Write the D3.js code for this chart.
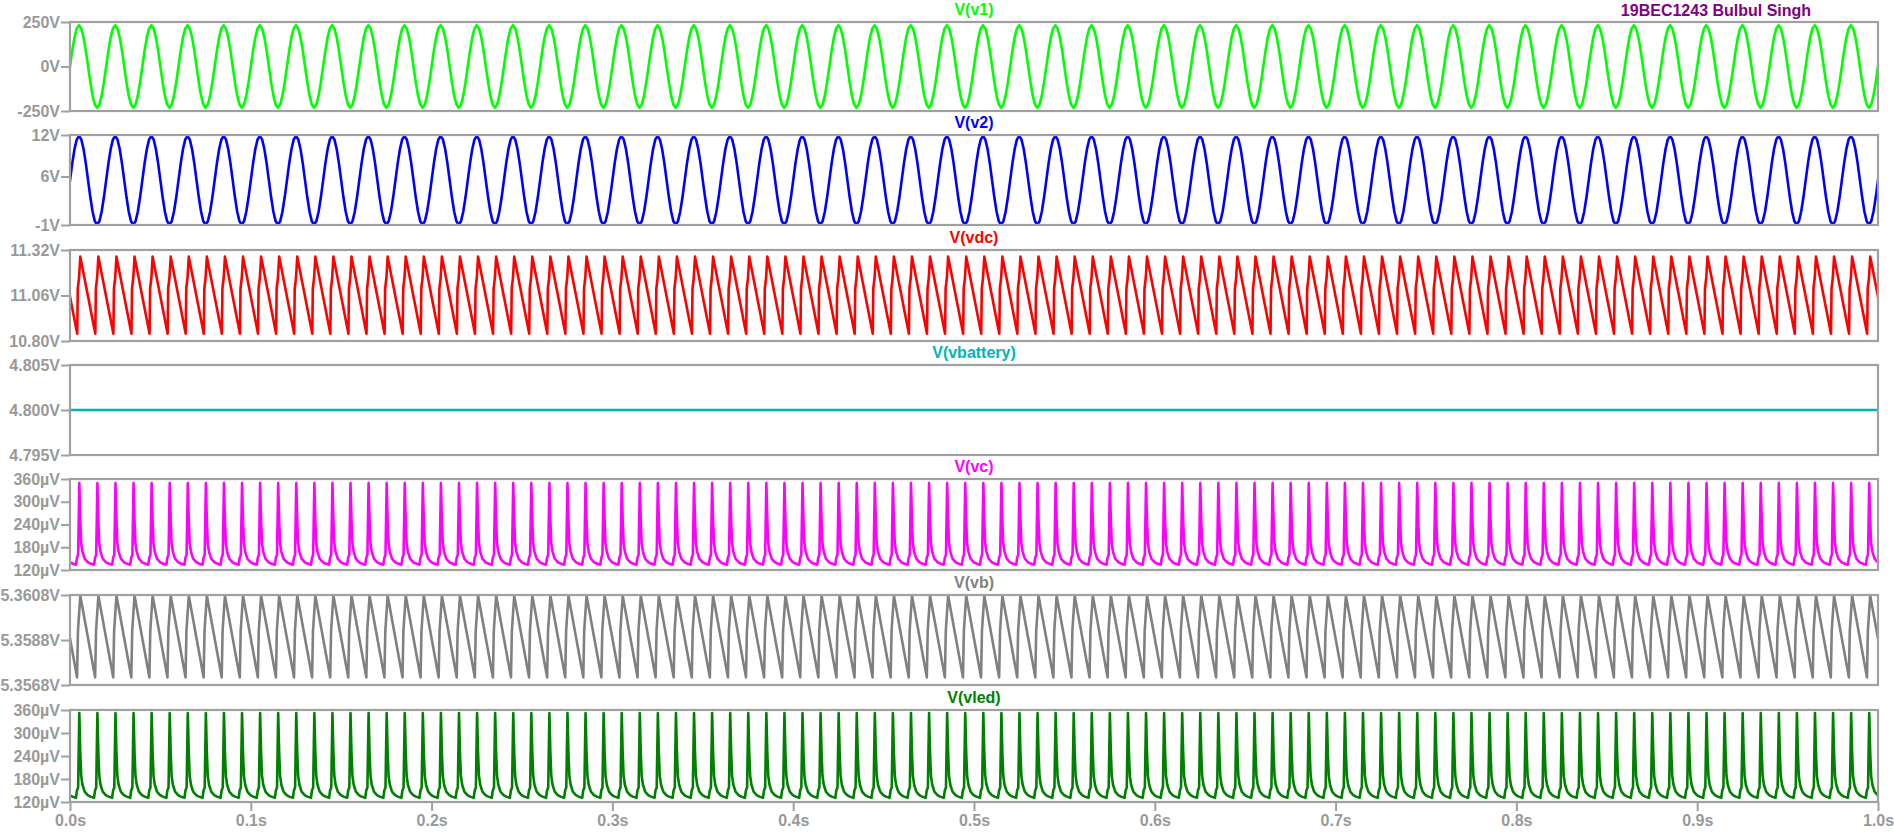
<!DOCTYPE html>
<html><head><meta charset="utf-8">
<script src="https://cdn.jsdelivr.net/npm/d3@7"></script>
<style>
body{margin:0;background:#fff;}
svg{display:block;}
text{font-family:"Liberation Sans",Arial,sans-serif;font-weight:bold;font-size:16px;}
</style>
</head><body><svg id="c" width="1894" height="833"></svg>
<script>
// ---------- data ----------
const timeTicks = [0,0.1,0.2,0.3,0.4,0.5,0.6,0.7,0.8,0.9,1.0];
const timeTickLabels = ["0.0s","0.1s","0.2s","0.3s","0.4s","0.5s","0.6s","0.7s","0.8s","0.9s","1.0s"];
const note = "19BEC1243 Bulbul Singh";

const titles = ["V(v1)","V(v2)","V(vdc)","V(vbattery)","V(vc)","V(vb)","V(vled)"];

// V(v1): one 20 ms cycle, equally spaced samples (V)
const v1Cycle = [0,89,164,214,232,214,164,89,0,-89,-164,-214,-232,-214,-164,-89];
const v1PeriodMs = 20, v1StartMs = 0;
const v1Ticks = [-250,0,250], v1TickLabels = ["-250V","0V","250V"], v1Domain = [-250,250];

// V(v2): one 20 ms cycle, equally spaced samples (V)
const v2Cycle = [5.45,7.9,9.98,11.37,11.85,11.37,9.98,7.9,5.45,3.0,0.92,-0.47,-0.95,-0.47,0.92,3.0];
const v2PeriodMs = 20, v2StartMs = 0;
const v2Ticks = [-1,6,12], v2TickLabels = ["-1V","6V","12V"], v2Domain = [-1,12];

// V(vdc): one 10 ms ripple cycle (ms within cycle, V)
const vdcCycleMs = [0,0.3,1.0,1.7,10];
const vdcCycleV  = [10.842,11.10,11.16,11.282,10.842];
const vdcPeriodMs = 10, vdcStartMs = 4.0;
const vdcTicks = [10.80,11.06,11.32], vdcTickLabels = ["10.80V","11.06V","11.32V"], vdcDomain = [10.80,11.32];

// V(vbattery): constant
const vbatMs = [0,1000];
const vbatV  = [4.800,4.800];
const vbatTicks = [4.795,4.800,4.805], vbatTickLabels = ["4.795V","4.800V","4.805V"], vbatDomain = [4.795,4.805];

// V(vc): one 10 ms pulse cycle (ms within cycle, µV)
const vcCycleMs = [0,0.55,1.2,1.85,2.4,2.9,3.6,4.8,6.5,8.0,10];
const vcCycleUV = [134,152,160,349,250,190,168,150,141,137,134];
const vcPeriodMs = 10, vcStartMs = 3.3;
const uvTicks = [120,180,240,300,360], uvTickLabels = ["120µV","180µV","240µV","300µV","360µV"], uvDomain = [120,360];

// V(vb): one 10 ms ripple cycle (ms within cycle, V)
const vbCycleMs = [0,0.5,1.8,10];
const vbCycleV  = [5.35714,5.3592,5.36077,5.35714];
const vbPeriodMs = 10, vbStartMs = 3.9;
const vbTicks = [5.3568,5.3588,5.3608], vbTickLabels = ["5.3568V","5.3588V","5.3608V"], vbDomain = [5.3568,5.3608];

// V(vled): one 10 ms pulse cycle (ms within cycle, µV)
const vledCycleMs = [0,0.55,1.2,1.85,2.4,2.9,3.6,4.8,6.5,8.0,10];
const vledCycleUV = [131,150,158,352,248,188,165,147,138,134,131];
const vledPeriodMs = 10, vledStartMs = 3.3;

// ---------- helpers ----------
function repeatCycle(ms, vals, periodMs, startMs){
  const pts = [];
  for(let k=-1; startMs + k*periodMs <= 1000 + periodMs; k++){
    const base = startMs + k*periodMs;
    for(let i=0;i<ms.length;i++) pts.push([(base+ms[i])/1000, vals[i]]);
  }
  return pts;
}
function uniformCycle(vals, periodMs, startMs){
  const ms = vals.map((_,i)=> i*periodMs/vals.length);
  return repeatCycle(ms, vals, periodMs, startMs);
}

const panes = [
  {title:titles[0], color:"#00ff00", domain:v1Domain, ticks:v1Ticks, labels:v1TickLabels, data:uniformCycle(v1Cycle,v1PeriodMs,v1StartMs)},
  {title:titles[1], color:"#0000ff", domain:v2Domain, ticks:v2Ticks, labels:v2TickLabels, data:uniformCycle(v2Cycle,v2PeriodMs,v2StartMs)},
  {title:titles[2], color:"#ff0000", domain:vdcDomain, ticks:vdcTicks, labels:vdcTickLabels, data:repeatCycle(vdcCycleMs,vdcCycleV,vdcPeriodMs,vdcStartMs)},
  {title:titles[3], color:"#00b4b4", domain:vbatDomain, ticks:vbatTicks, labels:vbatTickLabels, data:vbatMs.map((m,i)=>[m/1000,vbatV[i]])},
  {title:titles[4], color:"#ff00ff", domain:uvDomain, ticks:uvTicks, labels:uvTickLabels, data:repeatCycle(vcCycleMs,vcCycleUV,vcPeriodMs,vcStartMs)},
  {title:titles[5], color:"#808080", domain:vbDomain, ticks:vbTicks, labels:vbTickLabels, data:repeatCycle(vbCycleMs,vbCycleV,vbPeriodMs,vbStartMs)},
  {title:titles[6], color:"#008000", domain:uvDomain, ticks:uvTicks, labels:uvTickLabels, data:repeatCycle(vledCycleMs,vledCycleUV,vledPeriodMs,vledStartMs)}
];

// ---------- layout ----------
const left = 70, right = 1878;
const paneTops = [22,135,250,365,479,595,710];
const paneBottoms = [111,225,341,455,570,685,802];
const frameColor = "#a0a0a0", textColor = "#999999";

const svg = d3.select("#c");
const x = d3.scaleLinear().domain([0,1]).range([left,right]);

panes.forEach((p,i)=>{
  const top = paneTops[i], bot = paneBottoms[i];
  const y = d3.scaleLinear().domain(p.domain).range([bot, top]);
  const g = svg.append("g");
  const cid = "clip"+i;
  svg.append("clipPath").attr("id",cid).append("rect")
    .attr("x",left+1).attr("y",top+1).attr("width",right-left-2).attr("height",bot-top-2);

  // trace
  const line = d3.line().x(d=>x(d[0])).y(d=>y(d[1]));
  g.append("path").datum(p.data).attr("clip-path",`url(#${cid})`)
    .attr("d",line).attr("fill","none").attr("stroke",p.color)
    .attr("stroke-width",2.6).attr("stroke-linejoin","round");

  // frame
  g.append("rect").attr("x",left).attr("y",top).attr("width",right-left).attr("height",bot-top)
    .attr("fill","none").attr("stroke",frameColor).attr("stroke-width",2.2);

  // y axis
  const yAxis = d3.axisLeft(y).tickValues(p.ticks).tickFormat((d,k)=>p.labels[k]).tickSize(9).tickPadding(1);
  const ag = g.append("g").attr("transform",`translate(${left},0)`).call(yAxis);
  ag.select(".domain").remove();
  ag.selectAll(".tick line").attr("stroke",frameColor).attr("stroke-width",2);
  ag.selectAll(".tick text").attr("fill",textColor).style("font-size","16px")
    .style("font-family",'"Liberation Sans",Arial,sans-serif').style("font-weight","bold");

  // title
  g.append("text").attr("x",(left+right)/2).attr("y",top-7).attr("text-anchor","middle")
    .attr("fill",p.color).text(p.title);

  if(i===panes.length-1){
    const xAxis = d3.axisBottom(x).tickValues(timeTicks).tickFormat((d,k)=>timeTickLabels[k]).tickSize(9).tickPadding(4);
    const xg = g.append("g").attr("transform",`translate(0,${bot})`).call(xAxis);
    xg.select(".domain").remove();
    xg.selectAll(".tick line").attr("stroke",frameColor).attr("stroke-width",2);
    xg.selectAll(".tick text").attr("fill",textColor).style("font-size","16px")
      .style("font-family",'"Liberation Sans",Arial,sans-serif').style("font-weight","bold");
  }
});

svg.append("text").attr("x",1716).attr("y",16).attr("text-anchor","middle")
  .attr("fill","#800080").text(note);
</script></body></html>
